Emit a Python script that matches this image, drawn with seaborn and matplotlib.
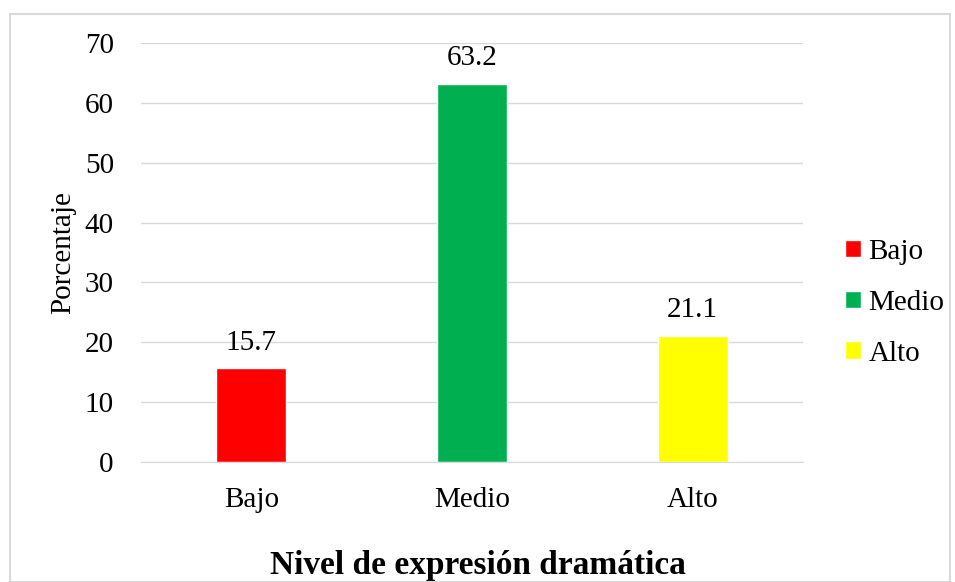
import numpy as np
import pandas as pd
import matplotlib
matplotlib.use("Agg")
import matplotlib.pyplot as plt
from matplotlib.patches import Rectangle
import seaborn as sns

niveles = ["Bajo", "Medio", "Alto"]
porcentaje = [15.7, 63.2, 21.1]
colores = ["#ff0000", "#00b050", "#ffff00"]

sns.set_style("white")
plt.rcParams['font.family'] = ['Liberation Serif', 'DejaVu Serif']
plt.rcParams['text.color'] = 'black'
plt.rcParams['axes.labelcolor'] = 'black'
plt.rcParams['xtick.color'] = 'black'
plt.rcParams['ytick.color'] = 'black'

df = pd.DataFrame({"Nivel": niveles, "Porcentaje": porcentaje})

fig = plt.figure(figsize=(9.55, 5.82), dpi=100)
ax = fig.add_axes([0.1476, 0.2062, 0.6932, 0.7199])

sns.barplot(data=df, x="Nivel", y="Porcentaje", hue="Nivel", order=niveles,
            hue_order=niveles, palette=colores, width=0.317, dodge=False,
            saturation=1, legend=True, ax=ax)

for c in ax.containers:
    ax.bar_label(c, fmt="%.1f", padding=9, fontsize=21, color="black")

ax.set_ylim(0, 70)
ax.set_yticks(np.arange(0, 71, 10))
ax.yaxis.grid(True, color="#d9d9d9", linewidth=1)
ax.set_axisbelow(True)
for s in ["top", "right", "left"]:
    ax.spines[s].set_visible(False)
ax.spines["bottom"].set_color("#d9d9d9")
ax.tick_params(axis="both", length=0, labelsize=21, labelcolor="black")
ax.tick_params(axis="y", pad=19.5)
ax.tick_params(axis="x", pad=18)
ax.set_xlabel("")
ax.set_ylabel("Porcentaje", fontsize=21, labelpad=6)

fig.text(0.5, 0.014, "Nivel de expresión dramática", ha="center", va="baseline",
         fontsize=24, fontweight="bold")

leg = ax.legend(loc="center left", bbox_to_anchor=(1.0, 0.38), frameon=False,
                fontsize=21, handlelength=0.55, handleheight=0.55,
                handletextpad=0.25, labelspacing=0.85, borderaxespad=1.05)

fig.patches.append(Rectangle((10 / 955, 0), 940 / 955, 1 - 14 / 582,
                             transform=fig.transFigure, fill=False,
                             edgecolor="#d9d9d9", linewidth=1.5))

fig.savefig("out.png", dpi=100)
